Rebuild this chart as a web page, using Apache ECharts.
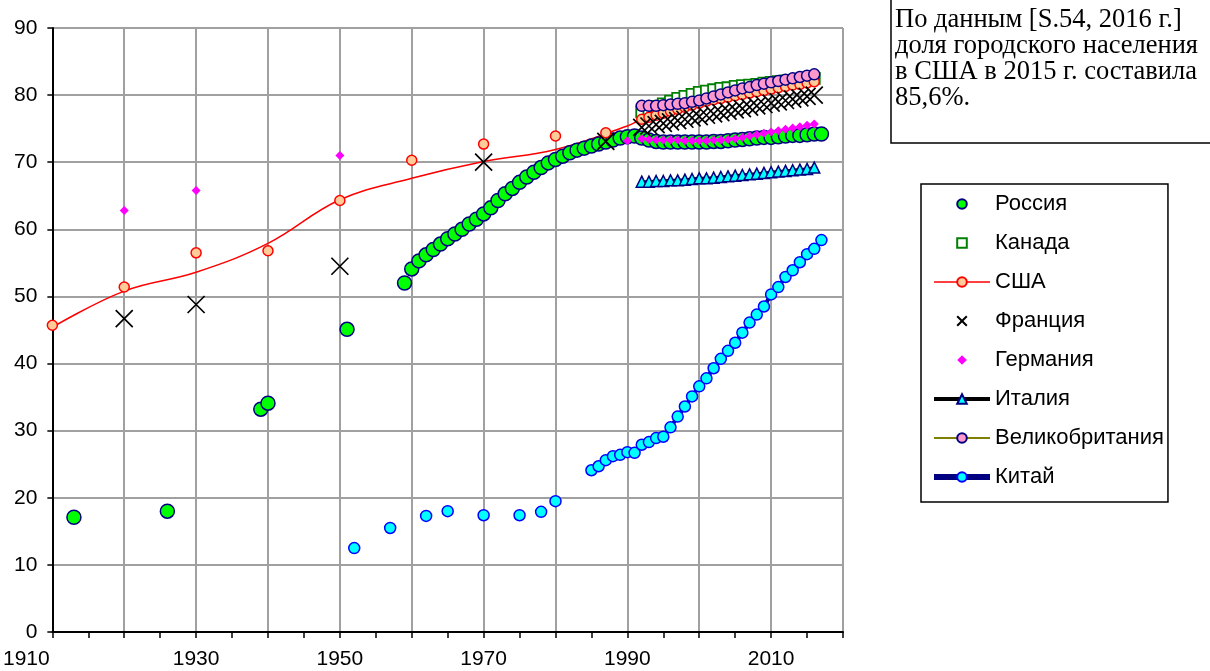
<!DOCTYPE html>
<html><head><meta charset="utf-8">
<script src="https://cdn.jsdelivr.net/npm/echarts@6/dist/echarts.min.js"></script>
<style>html,body{margin:0;padding:0;background:#fff}#c{width:1210px;height:671px}</style>
</head><body><div id="c"></div>
<script>
// ---- data (year, urban share %) ----
const xLabelYears = [1910, 1930, 1950, 1970, 1990, 2010];
const russia = [[1913,17.1],[1926,18.0],[1939,33.2],[1940,34.1],[1951,45.1],[1959,52.0],[1960,54.1],
 [1961,55.3],[1962,56.2],[1963,57.0],[1964,57.8],[1965,58.6],[1966,59.3],[1967,60.0],[1968,60.8],[1969,61.5],
 [1970,62.3],[1971,63.2],[1972,64.3],[1973,65.3],[1974,66.1],[1975,67.0],[1976,67.8],[1977,68.5],[1978,69.2],
 [1979,69.9],[1980,70.4],[1981,70.9],[1982,71.4],[1983,71.8],[1984,72.1],[1985,72.4],[1986,72.7],[1987,73.0],
 [1988,73.3],[1989,73.6],[1990,73.8],[1991,73.9],[1992,73.6],[1993,73.3],[1994,73.1],[1995,73.0],[1996,73.0],
 [1997,73.0],[1998,73.0],[1999,73.0],[2000,73.0],[2001,73.0],[2002,73.1],[2003,73.1],[2004,73.2],[2005,73.3],
 [2006,73.4],[2007,73.5],[2008,73.6],[2009,73.7],[2010,73.7],[2011,73.8],[2012,73.9],[2013,74.0],[2014,74.0],
 [2015,74.1],[2016,74.2],[2017,74.2]];
const canada = [[1992,77.5],[1993,77.9],[1994,78.3],[1995,78.7],[1996,79.1],[1997,79.5],[1998,79.8],[1999,80.1],
 [2000,80.4],[2001,80.6],[2002,80.8],[2003,81.0],[2004,81.1],[2005,81.3],[2006,81.4],[2007,81.5],[2008,81.6],
 [2009,81.8],[2010,81.9],[2011,82.0],[2012,82.1],[2013,82.2],[2014,82.3],[2015,82.4],[2016,82.5]];
const usaCurve = [[1910,45.4],[1920,50.8],[1930,53.6],[1940,57.9],[1950,64.4],[1960,67.6],[1970,70.1],[1980,71.9],[1990,75.4]];
const usaAnnual = [[1992,76.4],[1993,76.7],[1994,77.0],[1995,77.3],[1996,77.6],[1997,77.9],[1998,78.2],[1999,78.5],
 [2000,78.8],[2001,79.1],[2002,79.3],[2003,79.5],[2004,79.7],[2005,79.9],[2006,80.1],[2007,80.3],[2008,80.5],
 [2009,80.7],[2010,80.9],[2011,81.1],[2012,81.3],[2013,81.5],[2014,81.6],[2015,81.8],[2016,82.0]];
const usaCensus = [[1910,45.7],[1920,51.4],[1930,56.5],[1940,56.8],[1950,64.3],[1960,70.3],[1970,72.7],[1980,73.9],[1987,74.4]];
const france = [[1920,46.7],[1930,48.8],[1950,54.5],[1970,70.0],[1987,73.1],
 [1992,75.2],[1993,75.4],[1994,75.6],[1995,75.8],[1996,76.0],[1997,76.2],[1998,76.4],[1999,76.6],[2000,76.8],
 [2001,77.0],[2002,77.2],[2003,77.4],[2004,77.6],[2005,77.8],[2006,78.0],[2007,78.2],[2008,78.4],[2009,78.6],
 [2010,78.8],[2011,79.0],[2012,79.2],[2013,79.4],[2014,79.6],[2015,79.8],[2016,80.0]];
const germany = [[1920,62.8],[1930,65.8],[1950,71.0],[1990,73.2],
 [1992,73.5],[1993,73.4],[1994,73.3],[1995,73.3],[1996,73.3],[1997,73.3],[1998,73.2],[1999,73.2],[2000,73.2],
 [2001,73.2],[2002,73.3],[2003,73.3],[2004,73.4],[2005,73.5],[2006,73.7],[2007,73.9],[2008,74.1],[2009,74.3],
 [2010,74.5],[2011,74.7],[2012,74.9],[2013,75.1],[2014,75.3],[2015,75.5],[2016,75.7]];
const italy = [[1992,67.1],[1993,67.1],[1994,67.2],[1995,67.2],[1996,67.3],[1997,67.3],[1998,67.4],[1999,67.5],
 [2000,67.6],[2001,67.6],[2002,67.7],[2003,67.8],[2004,67.9],[2005,68.0],[2006,68.1],[2007,68.2],[2008,68.3],
 [2009,68.4],[2010,68.5],[2011,68.6],[2012,68.7],[2013,68.8],[2014,68.9],[2015,69.0],[2016,69.2]];
const uk = [[1992,78.4],[1993,78.4],[1994,78.4],[1995,78.5],[1996,78.6],[1997,78.7],[1998,78.8],[1999,79.0],
 [2000,79.2],[2001,79.5],[2002,79.8],[2003,80.1],[2004,80.4],[2005,80.7],[2006,81.0],[2007,81.2],[2008,81.5],
 [2009,81.7],[2010,81.9],[2011,82.1],[2012,82.3],[2013,82.5],[2014,82.7],[2015,82.9],[2016,83.1]];
const chinaAnnual = [[1985,24.1],[1986,24.7],[1987,25.6],[1988,26.2],[1989,26.4],[1990,26.8],[1991,26.7],[1992,27.9],
 [1993,28.3],[1994,28.9],[1995,29.1],[1996,30.5],[1997,32.1],[1998,33.6],[1999,35.1],[2000,36.6],[2001,37.8],
 [2002,39.3],[2003,40.7],[2004,41.9],[2005,43.1],[2006,44.6],[2007,46.1],[2008,47.3],[2009,48.5],[2010,50.3],
 [2011,51.4],[2012,52.9],[2013,53.9],[2014,55.1],[2015,56.3],[2016,57.1],[2017,58.4]];
const chinaEarly = [[1952,12.5],[1957,15.5],[1962,17.3],[1965,18.0],[1970,17.4],[1975,17.4],[1978,17.9],[1980,19.5]];
const noteText = 'По данным [S.54, 2016 г.]\nдоля городского населения\nв США в 2015 г. составила\n85,6%.';

// ---- chart ----
const NAVY = '#000080';
const SANS = '"Liberation Sans", Arial, sans-serif';
const hidden = {width: 0, opacity: 0};
function s(name, data, o) {
  return Object.assign({name: name, type: 'line', data: data, animation: false, silent: true,
    showSymbol: true, lineStyle: hidden, emphasis: {disabled: true}}, o);
}
const usaLineData = usaCurve.map(p => ({value: p, symbol: 'none'})).concat(usaAnnual);

const series = [
  s('Россия', russia, {symbol: 'circle', symbolSize: 14, itemStyle: {color: '#00ff00', borderColor: NAVY, borderWidth: 1.5}}),
  s('Канада', canada, {symbol: 'rect', symbolSize: 11, itemStyle: {color: '#ffffff', borderColor: '#008000', borderWidth: 1.8}}),
  s('США', usaLineData, {symbol: 'circle', symbolSize: 10, smooth: 0.4,
    lineStyle: {color: '#ff0000', width: 1.5}, itemStyle: {color: '#ffcc99', borderColor: '#ff0000', borderWidth: 1.5}}),
  s('США', usaCensus, {symbol: 'circle', symbolSize: 10, itemStyle: {color: '#ffcc99', borderColor: '#ff0000', borderWidth: 1.5}}),
  s('Франция', france, {symbol: 'path://M0,0L20,20M20,0L0,20', symbolSize: 17, itemStyle: {color: '#000', borderColor: '#000', borderWidth: 1.7}}),
  s('Германия', germany, {symbol: 'diamond', symbolSize: 9, itemStyle: {color: '#ff00ff'}}),
  s('Италия', italy, {symbol: 'triangle', symbolSize: 11, lineStyle: {color: '#000', width: 3},
    itemStyle: {color: '#00ffff', borderColor: NAVY, borderWidth: 1.5}}),
  s('Великобритания', uk, {symbol: 'circle', symbolSize: 11, lineStyle: {color: '#808000', width: 1.5},
    itemStyle: {color: '#ff99cc', borderColor: NAVY, borderWidth: 1.5}}),
  s('Китай', chinaAnnual, {symbol: 'circle', symbolSize: 11, lineStyle: {color: NAVY, width: 4},
    itemStyle: {color: '#00ffff', borderColor: '#0000ff', borderWidth: 1.5}}),
  s('Китай', chinaEarly, {symbol: 'circle', symbolSize: 11, itemStyle: {color: '#00ffff', borderColor: '#0000ff', borderWidth: 1.5}})
];

const option = {
  backgroundColor: '#fff',
  animation: false,
  grid: {left: 51, right: 367, top: 28, bottom: 39},
  xAxis: {
    type: 'value', min: 1910, max: 2020, interval: 10,
    axisLine: {show: true, onZero: false, lineStyle: {color: '#000', width: 2}},
    axisTick: {show: true, length: 6, lineStyle: {color: '#000', width: 1.5}},
    minorTick: {show: true, splitNumber: 2, length: 6, lineStyle: {color: '#000', width: 1.5}},
    splitLine: {show: true, lineStyle: {color: '#a0a0a0', width: 2}},
    axisLabel: {
      margin: 17, color: '#000', fontFamily: SANS, fontSize: 21,
      formatter: function (v) {
        if (xLabelYears.indexOf(v) < 0) return '';
        return v === xLabelYears[0] ? '{first|' + v + '}' : String(v);
      },
      rich: {first: {fontFamily: SANS, fontSize: 21, color: '#000', padding: [0, 52, 0, 0]}}
    }
  },
  yAxis: {
    type: 'value', min: 0, max: 90, interval: 10,
    axisLine: {show: true, lineStyle: {color: '#000', width: 2}},
    axisTick: {show: true, length: 5, lineStyle: {color: '#000', width: 1.5}},
    splitLine: {show: true, lineStyle: {color: '#a0a0a0', width: 2}},
    axisLabel: {margin: 15, color: '#000', fontFamily: SANS, fontSize: 21}
  },
  legend: {
    orient: 'vertical', left: 921, top: 184,
    padding: [9, 4, 14, 10],
    itemWidth: 56, itemHeight: 12, itemGap: 17,
    borderColor: '#000', borderWidth: 1.5, backgroundColor: '#fff',
    selectedMode: false,
    textStyle: {fontFamily: SANS, fontSize: 22, color: '#000', lineHeight: 22},
    data: [
      {name: 'Россия', lineStyle: {opacity: 0}},
      {name: 'Канада', lineStyle: {opacity: 0}},
      {name: 'США', lineStyle: {width: 1.5}},
      {name: 'Франция', lineStyle: {opacity: 0}},
      {name: 'Германия', lineStyle: {opacity: 0}},
      {name: 'Италия', lineStyle: {width: 4}},
      {name: 'Великобритания', lineStyle: {width: 2}},
      {name: 'Китай', lineStyle: {width: 6}}
    ]
  },
  graphic: [
    {type: 'rect', shape: {x: 891, y: -5, width: 330, height: 148}, style: {fill: '#fff', stroke: '#000', lineWidth: 1.5}},
    {type: 'text', x: 895, y: 7, style: {text: noteText, font: '26.5px "Liberation Serif", "Times New Roman", serif', lineHeight: 26, fill: '#000'}}
  ],
  series: series
};
const chart = echarts.init(document.getElementById('c'), null, {renderer: 'canvas'});
chart.setOption(option);
</script>
</body></html>
